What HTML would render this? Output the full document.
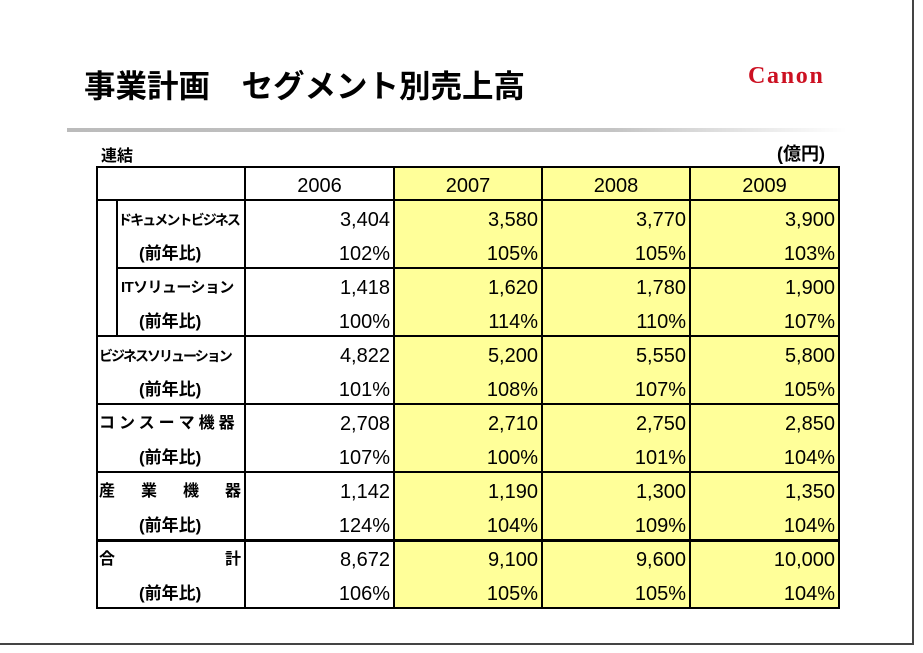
<!DOCTYPE html>
<html><head><meta charset="utf-8"><style>
body{margin:0;background:#fff;}
#slide{position:relative;width:923px;height:653px;overflow:hidden;background:#fff;font-family:"Liberation Sans","Noto Sans CJK JP",sans-serif;color:#000;}
.abs{position:absolute;}
.cell{position:absolute;box-sizing:border-box;font-size:20px;line-height:34px;height:34px;padding-top:3px;}
.num{text-align:right;padding-right:4px;}
.lbl{font-weight:bold;font-size:16px;white-space:nowrap;}
.hl{position:absolute;background:#000;height:1px;}
.vl{position:absolute;background:#000;width:2px;}
</style></head><body>
<div id="slide">
<div class="abs" style="left:912px;top:0;width:2px;height:645px;background:#444"></div>
<div class="abs" style="left:0;top:643px;width:914px;height:2px;background:#444"></div>
<div class="abs" style="left:84px;top:61px;font-size:31.5px;font-weight:bold;white-space:nowrap;">事業計画　セグメント別売上高</div>
<div class="abs" style="left:748px;top:63px;font-family:'Liberation Serif',serif;font-weight:bold;font-size:24px;color:#cc1122;letter-spacing:1.7px;">Canon</div>
<div class="abs" style="left:67px;top:128px;width:780px;height:4px;background:linear-gradient(to right,#bbb 0%,#c4c4c4 70%,#fff 100%)"></div>
<div class="abs" style="left:101px;top:142px;font-size:16px;font-weight:bold;">連結</div>
<div class="abs" style="left:777px;top:140px;font-size:18px;font-weight:bold;">(億円)</div>
<div class="abs" style="left:394px;top:166px;width:445px;height:442px;background:#ffff99"></div>
</div>
<script>
const years=['2006','2007','2008','2009'];
const segLabels=['ドキュメントビジネス','ITソリューション','ビジネスソリューション','コンスーマ機器','産業機器','合計'];
const sales=[[3404,3580,3770,3900],[1418,1620,1780,1900],[4822,5200,5550,5800],[2708,2710,2750,2850],[1142,1190,1300,1350],[8672,9100,9600,10000]];
const growth=[[102,105,105,103],[100,114,110,107],[101,108,107,105],[107,100,101,104],[124,104,109,104],[106,105,105,104]];
const s=document.getElementById('slide');
const colX=[245,394,542,690,839];const top0=166,hh=34,L=96,R=839;
function add(cls,name,st,txt){const d=document.createElement('div');d.className=cls;d.setAttribute('style',st);if(txt!==undefined)d.textContent=txt;s.appendChild(d);return d;}
years.forEach((y,i)=>{const d=add('cell','',`left:${colX[i]}px;top:${top0}px;width:${colX[i+1]-colX[i]}px;text-align:center;`,y);

});
const labelStyles=[
 {x:118,fs:14,ls:-1.9},
 {x:121,fs:15,ls:-0.6},
 {x:99,fs:14,ls:-2},
 {x:99,fs:16,ls:4},
 {x:99,fs:16,ls:26},
 {x:99,fs:16,ls:110}];
segLabels.forEach((lab,r)=>{
 const y=top0+hh+r*2*hh;const ls=labelStyles[r];
 const a=add('cell lbl','',`left:${ls.x}px;top:${y}px;font-size:${ls.fs}px;letter-spacing:${ls.ls}px;`,lab);
 
 
 const b=add('cell lbl','',`left:139px;top:${y+hh}px;font-size:17px;`,'(前年比)');
 
 
 for(let c=0;c<4;c++){
  const v=add('cell num','',`left:${colX[c]}px;top:${y}px;width:${colX[c+1]-colX[c]}px;`,sales[r][c].toLocaleString('en-US'));
  
  
  const g=add('cell num','',`left:${colX[c]}px;top:${y+hh}px;width:${colX[c+1]-colX[c]}px;`,growth[r][c]+'%');
  
  
 }
 const lx=(r===1)?116:L;
 if(r>0){const h=add('hl','',`left:${lx}px;top:${y-1}px;width:${R-lx}px;height:${r===5?3:2}px;`);
 
 }
});
const lines=[
 ['hl',`left:${L}px;top:${top0}px;width:${R-L+1}px;height:2px;`],
 ['hl',`left:${L}px;top:${top0+hh-1}px;width:${R-L+1}px;height:2px;`],
 ['hl',`left:${L}px;top:${top0+13*hh-1}px;width:${R-L+1}px;height:2px;`],
 ['vl',`left:${L}px;top:${top0}px;height:${13*hh+1}px;`],
 ['vl',`left:116px;top:${top0+hh}px;height:${4*hh}px;`]];
colX.forEach(x=>lines.push(['vl',`left:${x-1}px;top:${top0}px;height:${13*hh+1}px;`]));
lines.forEach(l=>{const d=add(l[0],'',l[1]);

});
</script>
</body></html>
